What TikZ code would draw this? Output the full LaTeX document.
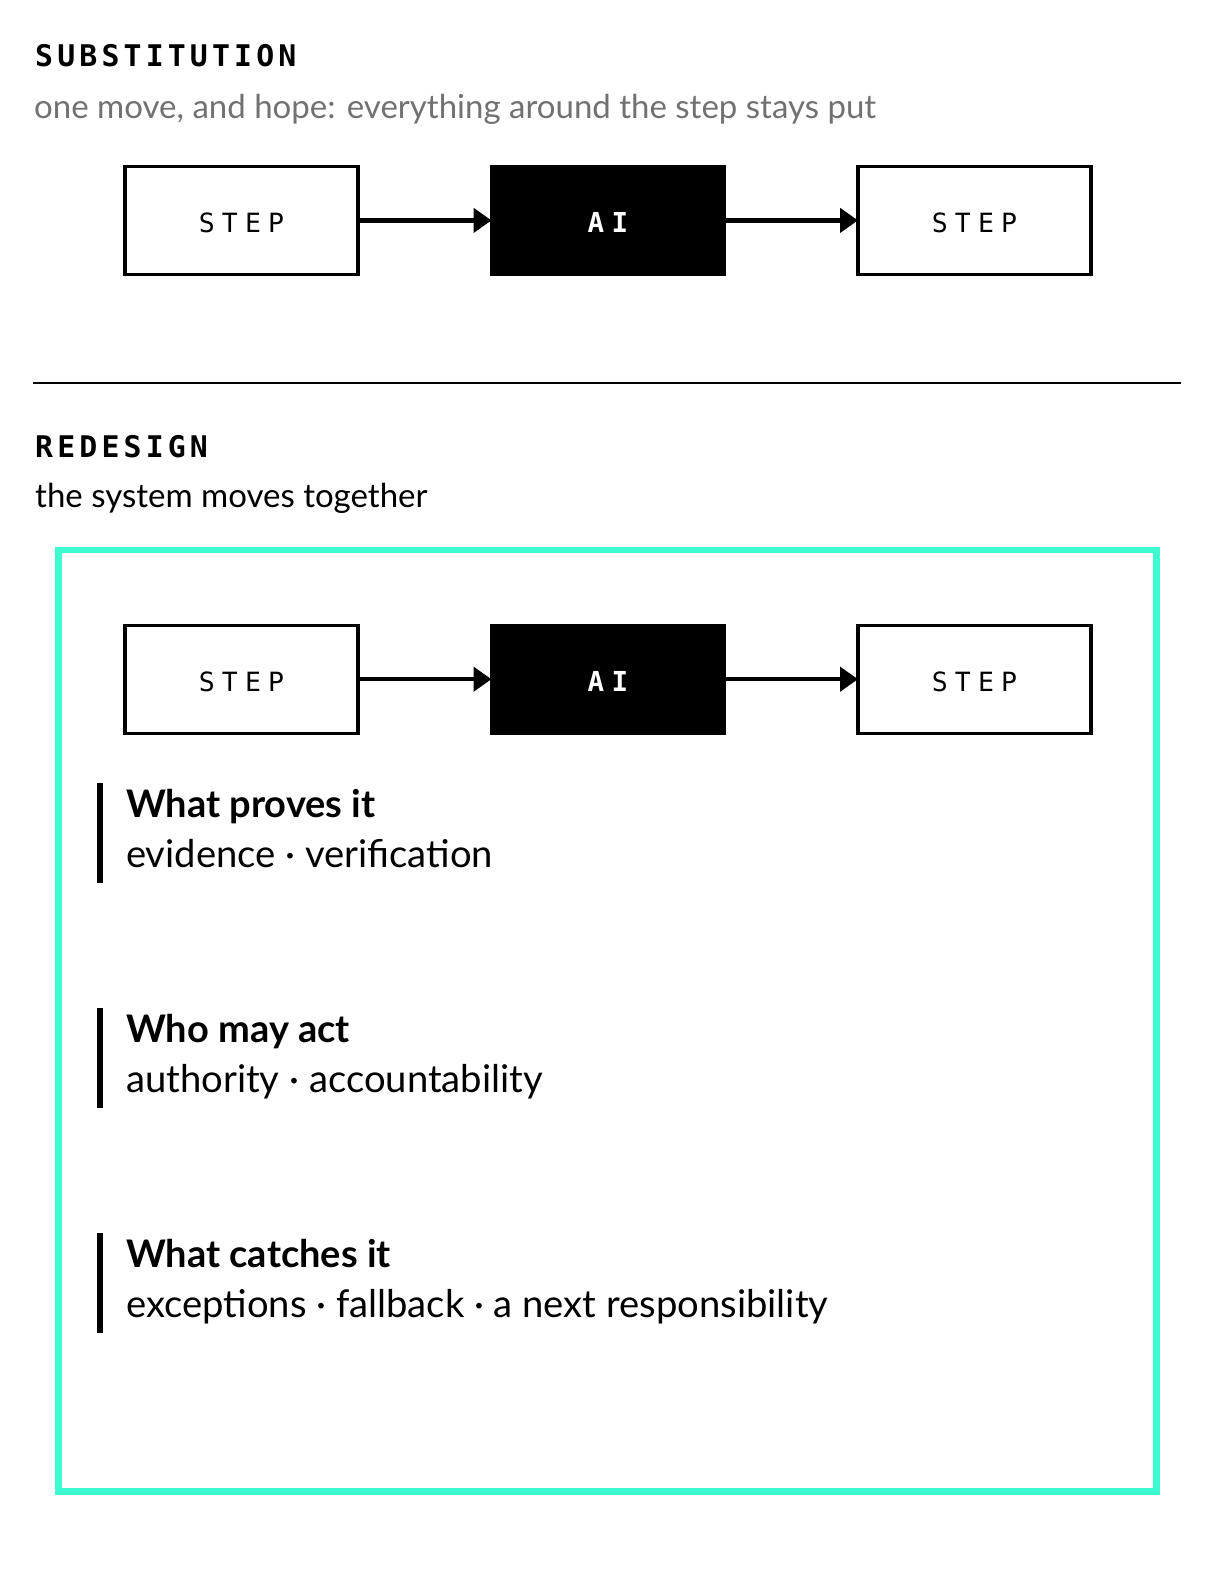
\documentclass[tikz,border=0pt]{standalone}
\usepackage{fontspec}
\usepackage{xcolor}
\usepackage{tikz}
\usetikzlibrary{positioning,arrows.meta}
\setmainfont{Lato}
\newfontfamily\headmono[LetterSpace=14]{DejaVu Sans Mono}
\newfontfamily\boxmono[LetterSpace=27]{DejaVu Sans Mono}
\definecolor{mint}{HTML}{3DFDD0}
\definecolor{subgray}{HTML}{717171}

\begin{document}
\begin{tikzpicture}[x=1pt,y=-1pt,
	stepbox/.style={draw=black,line width=3.2pt,minimum width=233pt,minimum height=108pt,inner sep=0pt,outer sep=0pt,text height=25pt,text depth=0pt,font=\boxmono\fontsize{26.5}{30}\selectfont},
	aibox/.style={stepbox,fill=black,text=white,font=\boxmono\bfseries\fontsize{27.5}{30}\selectfont},
	flow/.style={line width=4.5pt,-{Triangle[length=18pt,width=24pt]}},
	heading/.style={anchor=base west,inner sep=0pt,font=\headmono\bfseries\fontsize{29.8}{32}\selectfont},
	subline/.style={anchor=base west,inner sep=0pt,font=\fontsize{33}{38}\selectfont},
	itemhead/.style={anchor=base west,inner sep=0pt,font=\bfseries\fontsize{38}{44}\selectfont},
	itembody/.style={anchor=base west,inner sep=0pt,font=\fontsize{38.2}{44}\selectfont},
	itembar/.style={line width=6.5pt}]
			\useasboundingbox (0,0) rectangle (1216,1584);
			
			% substitution
			\node[heading] (subhead) at (35,66.7) {SUBSTITUTION};
			\node[subline,text=subgray] (subtext) at (34,118.3) {one move, and hope: everything around the step stays put};
			\node[stepbox] (s1) at (241.5,220.4) {STEP};
			\node[aibox,right=133.5pt of s1] (ai1) {AI};
			\node[stepbox,right=133.5pt of ai1] (s2) {STEP};
			\draw[flow] (s1) -- (ai1);
			\draw[flow] (ai1) -- (s2);
			
			\draw[line width=2pt] (33,383) -- (1181,383);
			
			% redesign
			\node[heading] (redhead) at (35,457) {REDESIGN};
			\node[subline] (redtext) at (35,507.3) {the system moves together};
			\draw[mint,line width=6.5pt] (58.5,550) rectangle (1156.5,1491.5);
			\node[stepbox] (s3) at (241.5,679.2) {STEP};
			\node[aibox,right=133.5pt of s3] (ai2) {AI};
			\node[stepbox,right=133.5pt of ai2] (s4) {STEP};
			\draw[flow] (s3) -- (ai2);
			\draw[flow] (ai2) -- (s4);
			
			\foreach \i/\ytop/\head/\body in {
				1/783/What proves it/evidence · verification,
				2/1008/Who may act/authority · accountability,
				3/1233/What catches it/exceptions · fallback · a next responsibility
			}
			{
			\draw[itembar] (100,\ytop) -- ++(0,100);
			\node[itemhead] (head\i) at (126,\ytop+34) {\head};
			\node[itembody] (body\i) at (126,\ytop+84) {\body};
			}
			\end{tikzpicture}
\end{document}
